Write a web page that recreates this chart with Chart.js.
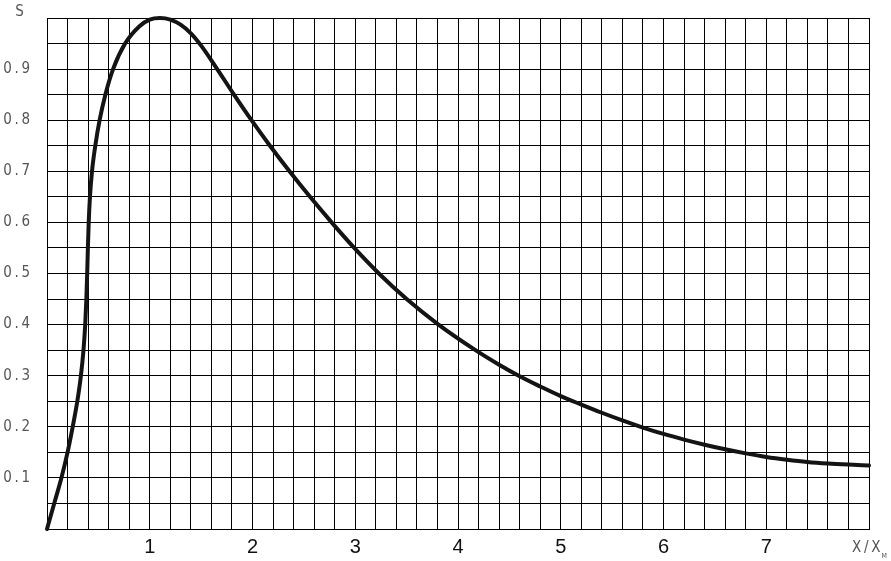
<!DOCTYPE html>
<html>
<head>
<meta charset="utf-8">
<script src="https://cdn.jsdelivr.net/npm/chart.js@4/dist/chart.umd.min.js"></script>
<style>
  html, body { margin: 0; padding: 0; background: #fff; }
  #c { display: block; }
</style>
</head>
<body>
<canvas id="c" width="891" height="561"></canvas>
<script>
const xValues = [0, 0.07, 0.14, 0.2, 0.25, 0.295, 0.33, 0.355, 0.372, 0.383, 0.391, 0.398, 0.406, 0.418, 0.438, 0.47, 0.512, 0.568, 0.643, 0.76, 0.9, 1.0, 1.1, 1.2, 1.3, 1.4, 1.5, 1.65, 1.81, 1.99, 2.17, 2.36, 2.56, 2.77, 2.99, 3.23, 3.5, 3.81, 4.17, 4.4, 4.6, 4.8, 5.0, 5.2, 5.4, 5.6, 5.8, 6.0, 6.2, 6.4, 6.6, 6.8, 7.0, 7.2, 7.4, 7.6, 7.8, 8.0];
const sValues = [0, 0.05, 0.1, 0.15, 0.2, 0.25, 0.3, 0.35, 0.4, 0.45, 0.5, 0.55, 0.6, 0.65, 0.7, 0.75, 0.8, 0.85, 0.9, 0.95, 0.984, 0.997, 1.0, 0.997, 0.987, 0.970, 0.946, 0.902, 0.853, 0.8, 0.75, 0.7, 0.65, 0.6, 0.55, 0.5, 0.45, 0.4, 0.35, 0.3215, 0.299, 0.279, 0.26, 0.2435, 0.2275, 0.2125, 0.1985, 0.186, 0.175, 0.165, 0.156, 0.148, 0.141, 0.1355, 0.131, 0.128, 0.126, 0.1245];
const xTickLabels = ['1', '2', '3', '4', '5', '6', '7'];
const yTickLabels = ['0\u2009.\u20091', '0\u2009.\u20092', '0\u2009.\u20093', '0\u2009.\u20094', '0\u2009.\u20095', '0\u2009.\u20096', '0\u2009.\u20097', '0\u2009.\u20098', '0\u2009.\u20099'];
const yAxisTitle = 'S';
const xAxisTitle = 'X\u2009/\u2009X';
const xAxisSub = 'M';

const points = xValues.map((x, i) => ({ x: x, y: sValues[i] }));
const narrowFont = '"Liberation Sans Narrow", "DejaVu Sans Condensed", "Liberation Sans", sans-serif';

const extraText = {
  id: 'extraText',
  afterDraw(chart) {
    const ctx = chart.ctx;
    const a = chart.chartArea;
    ctx.save();
    ctx.fillStyle = '#555';
    ctx.font = '15px ' + narrowFont;
    ctx.textAlign = 'center';
    ctx.textBaseline = 'middle';
    ctx.fillText(yAxisTitle, 19.5, a.top - 6);
    ctx.textAlign = 'left';
    ctx.fillText(xAxisTitle, a.right - 17, a.bottom + 19);
    const w = ctx.measureText(xAxisTitle).width;
    ctx.font = '7px ' + narrowFont;
    ctx.fillText(xAxisSub, a.right - 17 + w + 1, a.bottom + 27);
    ctx.restore();
  }
};

new Chart(document.getElementById('c'), {
  type: 'scatter',
  data: {
    datasets: [{
      data: points,
      showLine: true,
      borderColor: '#141414',
      borderWidth: 4,
      pointRadius: 0,
      cubicInterpolationMode: 'monotone',
      borderCapStyle: 'round',
      borderJoinStyle: 'round',
      clip: false
    }]
  },
  options: {
    responsive: false,
    animation: false,
    devicePixelRatio: 1,
    layout: { padding: { top: 18, right: 22, left: 0, bottom: 0 } },
    plugins: { legend: { display: false }, tooltip: { enabled: false } },
    scales: {
      x: {
        type: 'linear',
        min: 0, max: 8,
        afterFit(s) { s.height = 32; s.paddingLeft = 0; s.paddingRight = 0; s.paddingTop = 0; s.paddingBottom = 0; },
        grid: { color: '#000', lineWidth: 1, drawTicks: false },
        border: { display: true, color: '#000', width: 1 },
        ticks: {
          stepSize: 0.2,
          autoSkip: false,
          maxRotation: 0,
          padding: 6,
          color: '#111',
          font: { family: '"Liberation Sans", Arial, sans-serif', size: 20 },
          callback(v) {
            const r = Math.round(v);
            if (Math.abs(v - r) < 1e-6 && r >= 1 && r <= 7) return xTickLabels[r - 1];
            return '';
          }
        }
      },
      y: {
        type: 'linear',
        min: 0, max: 1,
        afterFit(s) { s.width = 47; s.paddingTop = 0; s.paddingBottom = 0; s.paddingLeft = 0; s.paddingRight = 0; },
        grid: { color: '#000', lineWidth: 1, drawTicks: false },
        border: { display: true, color: '#000', width: 1 },
        ticks: {
          stepSize: 0.05,
          autoSkip: false,
          padding: 17,
          color: '#555',
          font: { family: narrowFont, size: 15 },
          callback(v) {
            const t = Math.round(v * 10);
            if (Math.abs(v * 10 - t) < 1e-6 && t >= 1 && t <= 9) return yTickLabels[t - 1];
            return '';
          }
        }
      }
    }
  },
  plugins: [extraText]
});
</script>
</body>
</html>
